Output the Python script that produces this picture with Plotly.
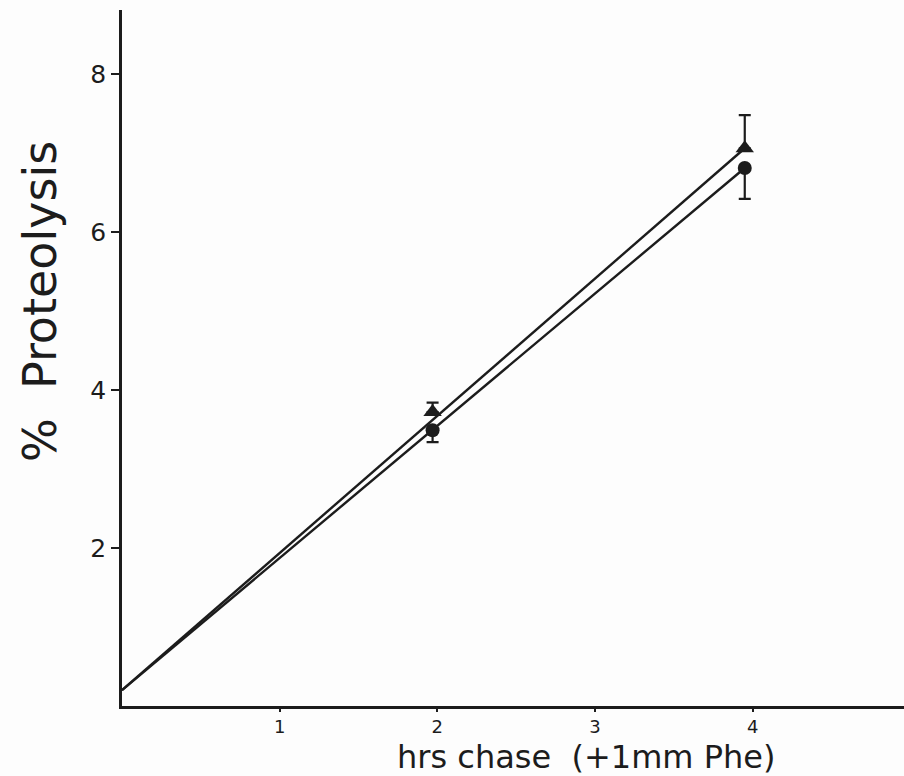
import plotly.graph_objects as go

# Data
line_x = [0.0, 3.95]
tri_line_y = [0.2, 7.06]
circ_line_y = [0.2, 6.81]

time_pts = [1.97, 3.95]
tri_y = [3.72, 7.06]
tri_err_plus = [0.12, 0.42]
circ_y = [3.49, 6.81]
circ_err_minus = [0.15, 0.39]

x_ticks = [1, 2, 3, 4]
y_ticks = [2, 4, 6, 8]

ink = "#1c1c1c"
fnt = "DejaVu Sans"

fig = go.Figure()
fig.add_trace(go.Scatter(x=line_x, y=tri_line_y, mode="lines",
                         line=dict(color=ink, width=2.4), showlegend=False))
fig.add_trace(go.Scatter(x=line_x, y=circ_line_y, mode="lines",
                         line=dict(color=ink, width=2.4), showlegend=False))
fig.add_trace(go.Scatter(x=time_pts, y=tri_y, mode="markers",
                         marker=dict(symbol="triangle-up", size=16, color=ink),
                         error_y=dict(type="data", symmetric=False, array=tri_err_plus,
                                      arrayminus=[0, 0], color=ink, thickness=2.2, width=6),
                         showlegend=False))
fig.add_trace(go.Scatter(x=time_pts, y=circ_y, mode="markers",
                         marker=dict(symbol="circle", size=14, color=ink),
                         error_y=dict(type="data", symmetric=False, array=[0, 0],
                                      arrayminus=circ_err_minus, color=ink, thickness=2.2, width=6),
                         showlegend=False))

fig.update_layout(
    width=904, height=776,
    margin=dict(l=122, r=0, t=10, b=70, autoexpand=False),
    paper_bgcolor="#fdfdfd", plot_bgcolor="#fdfdfd",
    font=dict(family=fnt, color=ink),
    xaxis=dict(range=[0, 4.96], tickvals=x_ticks, ticktext=[str(v) for v in x_ticks],
               showgrid=False, zeroline=False, showline=True, linecolor=ink, linewidth=2.5,
               ticks="outside", ticklen=3, tickwidth=1.5, tickcolor=ink,
               tickfont=dict(size=18, family=fnt, color=ink)),
    yaxis=dict(range=[0, 8.81], tickvals=y_ticks, ticktext=[str(v) for v in y_ticks],
               showgrid=False, zeroline=False, showline=True, linecolor=ink, linewidth=2.5,
               ticks="outside", ticklen=8, tickwidth=1.5, tickcolor=ink,
               tickfont=dict(size=25, family=fnt, color=ink)),
    annotations=[
        dict(text="hrs chase  (+1mm Phe)", xref="paper", yref="paper",
             x=(586 - 122) / 782, y=-(757 - 706) / 696, xanchor="center", yanchor="middle",
             showarrow=False, font=dict(size=32, family=fnt, color=ink)),
        dict(text="%  Proteolysis", xref="paper", yref="paper",
             x=(40 - 122) / 782, y=(706 - 302) / 696, xanchor="center", yanchor="middle",
             textangle=-90, showarrow=False, font=dict(size=46, family=fnt, color=ink)),
    ],
)

fig.write_html(
    "out.html",
    config={"displayModeBar": False},
    post_script="document.body.style.margin='0px';document.body.style.overflow='hidden';",
)
